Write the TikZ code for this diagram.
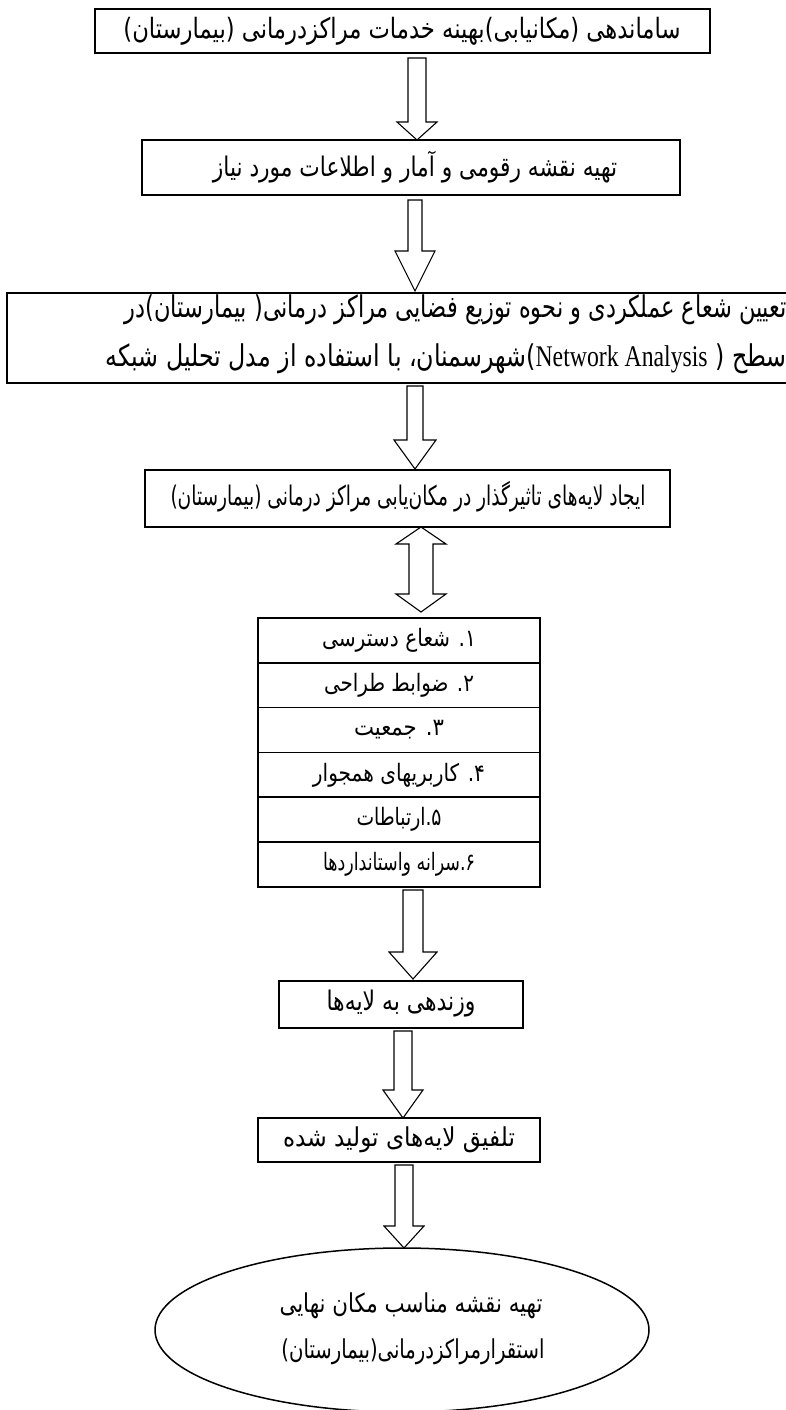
\documentclass[tikz,border=0pt]{standalone}
\usepackage{fontspec}
\usepackage{graphicx}
\TeXXeTstate=1
\newfontfamily\arfont[Script=Arabic]{DejaVu Sans}
\newfontfamily\latfont{Liberation Serif}
% #1 font size, #2 target width (px), #3 text (already wrapped in \beginR ... \endR)
\newcommand{\fitfa}[3]{\resizebox{#2pt}{\height}{\fontsize{#1}{#1}\arfont #3}}
\newcommand{\darrow}[6]{% cx, top, head base, tip, shaft half width, head half width
  \draw[blk] (#1-#5,#2) -- (#1+#5,#2) -- (#1+#5,#3) -- (#1+#6,#3) -- (#1,#4)
     -- (#1-#6,#3) -- (#1-#5,#3) -- cycle;}
\tikzset{
  box/.style={draw, line width=1.8pt, fill=white, inner sep=0pt, rectangle},
  row/.style={draw, line width=1.6pt, inner sep=0pt, rectangle, minimum width=282pt, minimum height=44.83pt},
  txt/.style={inner sep=0pt},
  blk/.style={draw, line width=1.1pt, fill=white, line join=miter},
}
\begin{document}
\begin{tikzpicture}[x=1pt,y=-1pt]
\useasboundingbox (0,0) rectangle (786,1410);
\clip (0,0) rectangle (786,1410);
\fill[white] (0,0) rectangle (786,1410);

% box 1
\node[box, minimum width=615pt, minimum height=44pt] (b1) at (402.5,31) {};
\node[txt] (t1) at (402,31) {\fitfa{28}{557}{\beginR ساماندهی (مکانیابی)بهینه خدمات مراکزدرمانی (بیمارستان)\endR}};

% arrow 1
\darrow{417}{58}{122}{140}{9}{20}

% box 2
\node[box, minimum width=538pt, minimum height=55pt] (b2) at (411,167.5) {};
\node[txt] (t2) at (415,167) {\fitfa{27}{404}{\beginR تهیه نقشه رقومی و آمار و اطلاعات مورد نیاز\endR}};

% arrow 2
\darrow{415}{200}{251}{291}{7}{20}

% box 3 (runs past the right edge)
\node[box, minimum width=823pt, minimum height=90pt] (b3) at (418.5,338) {};
\node[txt, anchor=east] (t3a) at (787,310) {\fitfa{30}{662}{\beginR تعیین شعاع عملکردی و نحوه توزیع فضایی مراکز درمانی( بیمارستان)در\endR}};
\node[txt, anchor=east] (t3b) at (787,359) {\fitfa{30}{681}{\beginR سطح ( \beginL{\latfont Network Analysis}\endL)شهرسمنان، با استفاده از مدل تحلیل شبکه\endR}};

% arrow 3
\darrow{415}{386}{440}{469}{8}{21}

% box 4
\node[box, minimum width=525pt, minimum height=57pt] (b4) at (407.5,498.5) {};
\node[txt] (t4) at (408,497) {\fitfa{27}{475}{\beginR ایجاد لایه‌های تاثیرگذار در مکان‌یابی مراکز درمانی (بیمارستان)\endR}};

% double arrow
\draw[blk] (421,527) -- (446,544) -- (433,544) -- (433,594) -- (446,594) -- (421,612)
  -- (396,594) -- (409,594) -- (409,544) -- (396,544) -- cycle;

% stack of six rows
\node[row] (r1) at (399,640.4) {\fitfa{24}{154}{\beginR ۱. شعاع دسترسی\endR}};
\node[row] (r2) at (399,685.2) {\fitfa{24}{150}{\beginR ۲. ضوابط طراحی\endR}};
\node[row] (r3) at (399,730.1) {\fitfa{24}{90}{\beginR ۳. جمعیت\endR}};
\node[row] (r4) at (399,774.9) {\fitfa{24}{172}{\beginR ۴. کاربریهای همجوار\endR}};
\node[row] (r5) at (399,819.7) {\fitfa{24}{85}{\beginR ۵.ارتباطات\endR}};
\node[row] (r6) at (399,864.6) {\fitfa{24}{152}{\beginR ۶.سرانه واستانداردها\endR}};

% arrow 5
\darrow{413}{890}{952}{979}{10}{24}

% box 5
\node[box, minimum width=244pt, minimum height=47pt] (b5) at (401,1004.5) {};
\node[txt] (t5) at (401,1004) {\fitfa{27}{149}{\beginR وزندهی به لایه‌ها\endR}};

% arrow 6
\darrow{403}{1031}{1090}{1118}{9}{20}

% box 6
\node[box, minimum width=282pt, minimum height=44pt] (b6) at (399,1140) {};
\node[txt] (t6) at (399,1140) {\fitfa{26}{232}{\beginR تلفیق لایه‌های تولید شده\endR}};

% arrow 7
\darrow{404}{1165}{1226}{1248}{9}{20}

% final ellipse
\draw[line width=1.5pt, fill=white] (402,1330) ellipse [x radius=247, y radius=82];
\node[txt] (e1) at (411,1306) {\fitfa{26}{263}{\beginR تهیه نقشه مناسب مکان نهایی\endR}};
\node[txt] (e2) at (413,1352) {\fitfa{26}{263}{\beginR استقرارمراکزدرمانی(بیمارستان)\endR}};
\end{tikzpicture}
\end{document}
